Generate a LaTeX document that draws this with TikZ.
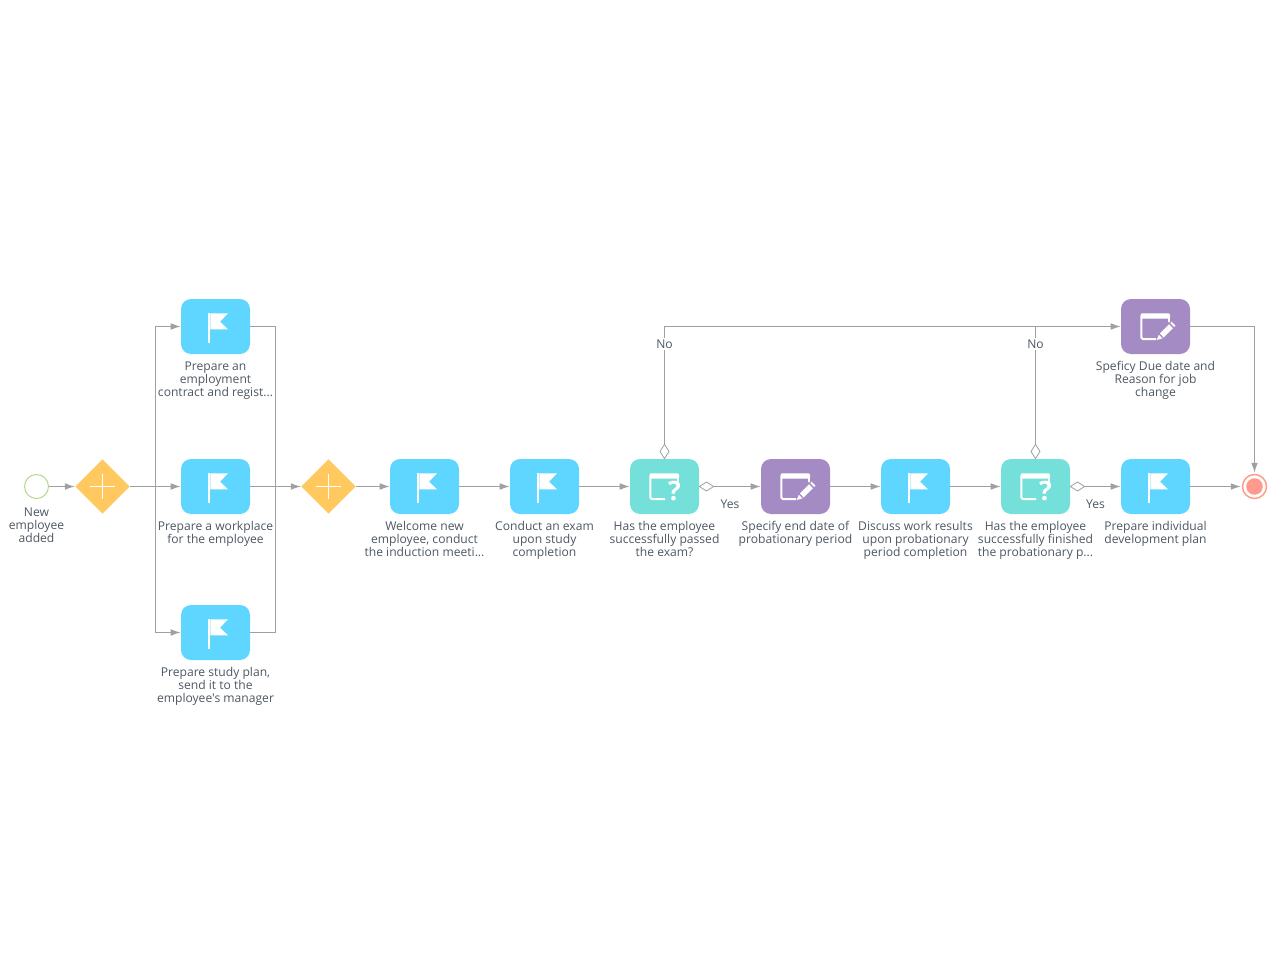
\documentclass[tikz,border=0pt]{standalone}
\usepackage{fontspec}
\newfontfamily\labfont{Open Sans}
\usetikzlibrary{arrows.meta,shapes.geometric}
\definecolor{linec}{HTML}{A0A0A0}
\definecolor{textc}{HTML}{4C5763}
\definecolor{flagc}{HTML}{5FD6FF}
\definecolor{askc}{HTML}{75E0DA}
\definecolor{editc}{HTML}{A48BC4}
\definecolor{gatec}{HTML}{FFC95F}
\definecolor{startc}{HTML}{B4DA8E}
\definecolor{endc}{HTML}{FF9A8D}
\tikzset{
  x=0.75pt,y=-0.75pt,
  taskbox/.style={rectangle,rounded corners=7.5pt,minimum width=51.75pt,minimum height=41.25pt,inner sep=0pt,fill=#1},
  gatebox/.style={diamond,aspect=1,fill=gatec,minimum width=41pt,minimum height=41pt,inner sep=0pt},
  startev/.style={circle,draw=startc,line width=0.75pt,fill=white,minimum size=18pt,inner sep=0pt},
  endev/.style={circle,draw=endc,line width=1.1pt,fill=white,minimum size=18pt,inner sep=0pt},
  flow/.style={draw=linec,line width=0.75pt,-{Latex[length=7.5pt,width=5pt]}},
  plainflow/.style={draw=linec,line width=0.75pt},
  condh/.style={diamond,aspect=1.6,draw=linec,line width=0.6pt,fill=white,minimum width=11pt,minimum height=7pt,inner sep=0pt},
  condv/.style={diamond,aspect=0.625,draw=linec,line width=0.6pt,fill=white,minimum width=7pt,minimum height=11pt,inner sep=0pt},
  lab/.style={text=textc,font=\labfont\fontsize{9.08pt}{9.75pt}\selectfont,align=center,anchor=north,inner sep=0pt},
  flowlab/.style={text=textc,font=\labfont\fontsize{9.08pt}{9.75pt}\selectfont,inner sep=1pt},
  qmark/.style={text=white,font=\labfont\fontsize{20pt}{20pt}\bfseries\selectfont,inner sep=0pt},
  flagicon/.pic={
    \fill[white] (-7.5,-13.2) rectangle (-5.2,16.5);
    \fill[white] (-5.2,-13.2) -- (12.5,-13.2) -- (4.5,-4.8) -- (12.5,2.8) -- (-5.2,2.8) -- cycle;
  },
  winicon/.pic={
    \fill[white,rounded corners=1pt] (-15,-13.2) rectangle (14.5,-8);
    \draw[white,line width=1.5pt,line cap=round,rounded corners=1.2pt] (-14.2,-10) -- (-14.2,12.6) -- (0,12.6);
    \draw[white,line width=1.5pt,line cap=round] (13.7,-10) -- (13.7,-5);
  },
  penicon/.pic={
    \fill[white] (4.4,7) -- (13.6,-2.2) -- (17.4,1.8) -- (8.2,11) -- cycle;
    \fill[white] (14.8,-3.4) -- (16.2,-4.8) -- (20,-0.9) -- (18.6,0.6) -- cycle;
    \fill[white] (3.4,8.2) -- (7,11.8) -- (1.2,13.6) -- cycle;
  },
}
\newcommand{\fl}{\leavevmode\vphantom{f}}
\begin{document}
\begin{tikzpicture}
\useasboundingbox (0,0) rectangle (1286,977);
% events and gateways
\node[startev] (start) at (36.5,486.5) {};
\node[gatebox] (g1) at (102.5,486.5) {};
\node[gatebox] (g2) at (328.5,486.5) {};
\node[endev] (stop) at (1254.5,486.5) {};
\fill[endc] (stop) circle (6.2pt);
\foreach \g in {g1,g2}{
  \draw[white,line width=1.1pt] ([xshift=-9.4pt]\g.center) -- ([xshift=9.4pt]\g.center);
  \draw[white,line width=1.1pt] ([yshift=-9.4pt]\g.center) -- ([yshift=9.4pt]\g.center);
}
% tasks
\node[taskbox=flagc] (t1) at (215.5,326.5) {};
\node[taskbox=flagc] (t2) at (215.5,486.5) {};
\node[taskbox=flagc] (t3) at (215.5,632.5) {};
\node[taskbox=flagc] (t4) at (424.5,486.5) {};
\node[taskbox=flagc] (t5) at (544.5,486.5) {};
\node[taskbox=askc]  (q1) at (664.5,486.5) {};
\node[taskbox=editc] (e1) at (795.5,486.5) {};
\node[taskbox=flagc] (t6) at (915.5,486.5) {};
\node[taskbox=askc]  (q2) at (1035.5,486.5) {};
\node[taskbox=flagc] (t7) at (1155.5,486.5) {};
\node[taskbox=editc] (e2) at (1155.5,326.5) {};
% icons
\foreach \n in {t1,t2,t3,t4,t5,t6,t7}{ \pic at (\n) {flagicon}; }
\foreach \n in {q1,q2,e1,e2}{ \pic at (\n) {winicon}; }
\foreach \n in {e1,e2}{ \pic at (\n) {penicon}; }
\node[qmark] (qm1) at (674.5,491) {?};
\node[qmark] (qm2) at (1045.5,491) {?};
% conditional markers
\node[condh] (c1y) at (706.5,486.5) {};
\node[condh] (c2y) at (1077.5,486.5) {};
\node[condv] (c1n) at (664.5,451.5) {};
\node[condv] (c2n) at (1035.5,451.5) {};
% junctions
\coordinate (js) at (155.5,486.5);
\coordinate (jm) at (275.5,486.5);
\coordinate (jn) at (1035.5,326.5);
\coordinate (jq) at (664.5,326.5);
\coordinate (je) at (1254.5,326.5);
% connectors
\draw[flow] (start) -- (g1);
\draw[flow] (g1) -- (t2);
\draw[flow] (js) |- (t1);
\draw[flow] (js) |- (t3);
\draw[plainflow] (t1.east) -| (jm);
\draw[plainflow] (t3.east) -| (jm);
\draw[flow] (t2) -- (g2);
\draw[flow] (g2) -- (t4);
\draw[flow] (t4) -- (t5);
\draw[flow] (t5) -- (q1);
\draw[flow] (c1y) -- (e1);
\draw[flow] (e1) -- (t6);
\draw[flow] (t6) -- (q2);
\draw[flow] (c2y) -- (t7);
\draw[flow,shorten >=0.75pt] (t7) -- (stop);
\draw[flow] (c1n) -- (jq) -- (e2);
\draw[plainflow] (c2n) -- (jn);
\draw[flow,shorten >=0.75pt] (e2.east) -- (je) -- (stop);
% flow labels
\node[flowlab,fill=white] (no1) at (664.5,344) {No};
\node[flowlab,fill=white] (no2) at (1035.5,344) {No};
\node[flowlab] (yes1) at (730,504) {Yes};
\node[flowlab] (yes2) at (1095.5,504) {Yes};
% task labels
\node[lab] (l0) at (36.5,506.5) {\fl New\\employee\\added};
\node[lab] (l1) at (215.5,360.5) {\fl Prepare an\\employment\\contract and regist...};
\node[lab] (l2) at (215.5,520.5) {\fl Prepare a workplace\\for the employee};
\node[lab] (l3) at (215.5,666.5) {\fl Prepare study plan,\\send it to the\\employee's manager};
\node[lab] (l4) at (424.5,520.5) {\fl Welcome new\\employee, conduct\\the induction meeti...};
\node[lab] (l5) at (544.5,520.5) {\fl Conduct an exam\\upon study\\completion};
\node[lab] (l6) at (664.5,520.5) {\fl Has the employee\\successfully passed\\the exam?};
\node[lab] (l7) at (795.5,520.5) {\fl Specify end date of\\probationary period};
\node[lab] (l8) at (915.5,520.5) {\fl Discuss work results\\upon probationary\\period completion};
\node[lab] (l9) at (1035.5,520.5) {\fl Has the employee\\successfully finished\\the probationary p...};
\node[lab] (l10) at (1155.5,520.5) {\fl Prepare individual\\development plan};
\node[lab] (l11) at (1155.5,360.5) {\fl Speficy Due date and\\Reason for job\\change};
\end{tikzpicture}
\end{document}
